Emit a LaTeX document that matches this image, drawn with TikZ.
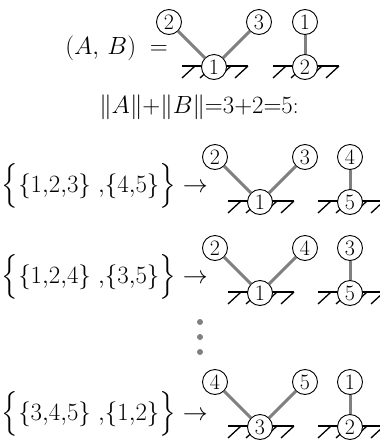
\documentclass[tikz,border=0pt]{standalone}
\usepackage{amsmath}
\begin{document}
\begin{tikzpicture}[x=1pt,y=-1pt,
  vtx/.style={circle,draw,fill=white,line width=0.9pt,minimum size=25pt,inner sep=0pt,font=\fontsize{22}{24}\selectfont},
  link/.style={draw=gray,line width=3pt},
  gnd/.style={line width=1.3pt},
  lbl/.style={inner sep=0pt,font=\fontsize{24}{26}\selectfont},
  vdot/.style={circle,fill=gray,minimum size=6pt,inner sep=0pt}]
\useasboundingbox (0,0) rectangle (380,445);
\newcommand{\grnd}[2]{%
  \draw[gnd] (#1-32,#2-1) -- (#1+34,#2-1);
  \foreach \d in {-19,-1,17,34} \draw[gnd] (#1+\d-13,#2+11) -- (#1+\d,#2-1);
}
% ---------- row 1
\grnd{214}{67}
\grnd{305}{67}
\node[lbl,font=\fontsize{33}{36}\selectfont,anchor=east] (ab) at (168,48) {$(A,\,B)\;=$};
\node[vtx] (r1g1) at (214,67) {1};
\node[vtx] (r1t2) at (169,22) {2};
\node[vtx] (r1t3) at (259,22) {3};
\node[vtx] (r1g2) at (305,67) {2};
\node[vtx] (r1t1) at (305,22) {1};
\draw[link] (r1g1) -- (r1t2);
\draw[link] (r1g1) -- (r1t3);
\draw[link] (r1g2) -- (r1t1);
\node[lbl,font=\fontsize{23}{26}\selectfont] (norm) at (199,107) {$\|A\|{+}\|B\|{=}3{+}2{=}5$:};
% ---------- row 2
\grnd{260}{202}
\grnd{350}{202}
\node[lbl,anchor=east] (l2) at (208,186) {$\Big\{\{1{,}2{,}3\}\ {,}\{4{,}5\}\Big\}\rightarrow$};
\node[vtx] (r2g1) at (260,202) {1};
\node[vtx] (r2t2) at (215,157) {2};
\node[vtx] (r2t3) at (305,157) {3};
\node[vtx] (r2g5) at (350,202) {5};
\node[vtx] (r2t4) at (350,157) {4};
\draw[link] (r2g1) -- (r2t2);
\draw[link] (r2g1) -- (r2t3);
\draw[link] (r2g5) -- (r2t4);
% ---------- row 3
\grnd{260}{293}
\grnd{350}{293}
\node[lbl,anchor=east] (l3) at (208,277) {$\Big\{\{1{,}2{,}4\}\ {,}\{3{,}5\}\Big\}\rightarrow$};
\node[vtx] (r3g1) at (260,293) {1};
\node[vtx] (r3t2) at (215,248) {2};
\node[vtx] (r3t4) at (305,248) {4};
\node[vtx] (r3g5) at (350,293) {5};
\node[vtx] (r3t3) at (350,248) {3};
\draw[link] (r3g1) -- (r3t2);
\draw[link] (r3g1) -- (r3t4);
\draw[link] (r3g5) -- (r3t3);
% ---------- dots
\node[vdot] (d1) at (200,322) {};
\node[vdot] (d2) at (200,337) {};
\node[vdot] (d3) at (200,352) {};
% ---------- row 4
\grnd{260}{427}
\grnd{350}{427}
\node[lbl,anchor=east] (l4) at (208,414) {$\Big\{\{3{,}4{,}5\}\ {,}\{1{,}2\}\Big\}\rightarrow$};
\node[vtx] (r4g3) at (260,427) {3};
\node[vtx] (r4t4) at (215,382) {4};
\node[vtx] (r4t5) at (305,382) {5};
\node[vtx] (r4g2) at (350,427) {2};
\node[vtx] (r4t1) at (350,382) {1};
\draw[link] (r4g3) -- (r4t4);
\draw[link] (r4g3) -- (r4t5);
\draw[link] (r4g2) -- (r4t1);
\end{tikzpicture}
\end{document}
